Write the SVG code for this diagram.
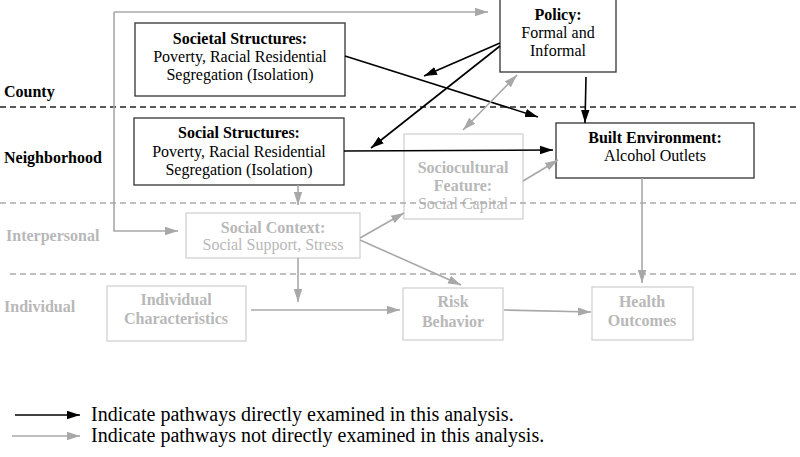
<svg xmlns="http://www.w3.org/2000/svg" width="800" height="457" viewBox="0 0 800 457">
<style>
text{font-family:"Liberation Serif","Times New Roman",serif;font-size:16px;text-anchor:middle}
.b{font-weight:bold}
.lab{text-anchor:start;font-weight:bold}
.g{fill:#b8b8b8}
.k{fill:#000}
.bk{fill:#fff;stroke:#333;stroke-width:1.3}
.bg{fill:#fff;stroke:#d2d2d2;stroke-width:1.3}
.ak{stroke:#000;stroke-width:1.6;fill:none}
.ag{stroke:#a8a8a8;stroke-width:1.6;fill:none}
.dk{stroke:#222;stroke-width:1.3;stroke-dasharray:6 4}
.dg{stroke:#aaa;stroke-width:1.3;stroke-dasharray:6 4}
.leg{text-anchor:start;font-size:20px}
</style>
<defs>
<marker id="mk" markerUnits="userSpaceOnUse" markerWidth="14" markerHeight="10" refX="13" refY="5" orient="auto-start-reverse"><path d="M0,0.8 L13,5 L0,9.2 z" fill="#000"/></marker>
<marker id="mg" markerUnits="userSpaceOnUse" markerWidth="14" markerHeight="10" refX="13" refY="5" orient="auto-start-reverse"><path d="M0,0.8 L13,5 L0,9.2 z" fill="#a8a8a8"/></marker>
</defs>
<rect width="800" height="457" fill="#fff"/>

<g id="levels">
<line class="dk" x1="0" y1="107" x2="800" y2="107"/>
<text class="lab k" x="4" y="97">County</text>
<text class="lab k" x="4" y="163">Neighborhood</text>
<text class="lab g" x="6" y="241">Interpersonal</text>
<text class="lab g" x="4" y="312">Individual</text>
<line class="dg" x1="10" y1="274" x2="800" y2="274"/>
</g>

<g id="societal">
<rect class="bk" x="135" y="23" width="210" height="73"/>
<text class="b k" x="240" y="44">Societal Structures:</text>
<text class="k" x="240" y="62">Poverty, Racial Residential</text>
<text class="k" x="240" y="80">Segregation (Isolation)</text>
</g>
<g id="policy">
<rect class="bk" x="500" y="-1" width="116" height="73"/>
<text class="b k" x="558" y="20">Policy:</text>
<text class="k" x="558" y="38">Formal and</text>
<text class="k" x="558" y="56">Informal</text>
</g>
<g id="social">
<rect class="bk" x="134" y="118" width="210" height="67"/>
<text class="b k" x="239" y="138">Social Structures:</text>
<text class="k" x="239" y="157">Poverty, Racial Residential</text>
<text class="k" x="239" y="175">Segregation (Isolation)</text>
</g>
<g id="built">
<rect class="bk" x="556" y="123" width="198" height="55"/>
<text class="b k" x="655" y="143">Built Environment:</text>
<text class="k" x="655" y="161">Alcohol Outlets</text>
</g>
<g id="sociocultural">
<rect class="bg" x="404" y="134" width="119" height="85"/>
<text class="b g" x="463" y="173">Sociocultural</text>
<text class="b g" x="463" y="191">Feature:</text>
<text class="g" x="463" y="209">Social Capital</text>
</g>
<line class="dg" x1="0" y1="203" x2="800" y2="203"/>
<g id="context">
<rect class="bg" x="186" y="213" width="174" height="45"/>
<text class="b g" x="273" y="233">Social Context:</text>
<text class="g" x="273" y="250">Social Support, Stress</text>
</g>
<g id="individual">
<rect class="bg" x="107" y="286" width="139" height="55"/>
<text class="b g" x="176" y="305">Individual</text>
<text class="b g" x="176" y="324">Characteristics</text>
</g>
<g id="risk">
<rect class="bg" x="403" y="288" width="100" height="52"/>
<text class="b g" x="453" y="307">Risk</text>
<text class="b g" x="453" y="327">Behavior</text>
</g>
<g id="health">
<rect class="bg" x="592" y="287" width="101" height="53"/>
<text class="b g" x="642" y="307">Health</text>
<text class="b g" x="642" y="326">Outcomes</text>
</g>

<g id="connectors">
<path class="ag" d="M114,12 V231 H178" marker-end="url(#mg)"/>
<line class="ag" x1="114" y1="12" x2="488" y2="12" marker-end="url(#mg)"/>
<line class="ak" x1="345" y1="56" x2="538" y2="117" marker-end="url(#mk)"/>
<line class="ak" x1="500" y1="43" x2="424" y2="76" marker-end="url(#mk)"/>
<line class="ak" x1="500" y1="46" x2="371" y2="148" marker-end="url(#mk)"/>
<line class="ak" x1="586" y1="77" x2="585" y2="123" marker-end="url(#mk)"/>
<line class="ak" x1="344" y1="151" x2="553" y2="150" marker-end="url(#mk)"/>
<line class="ag" x1="517" y1="75" x2="463" y2="130" marker-start="url(#mg)" marker-end="url(#mg)"/>
<line class="ag" x1="523" y1="181" x2="558" y2="160" marker-end="url(#mg)"/>
<line class="ag" x1="360" y1="238" x2="404" y2="213" marker-end="url(#mg)"/>
<line class="ag" x1="298" y1="185" x2="298" y2="205" marker-end="url(#mg)"/>
<line class="ag" x1="360" y1="240" x2="461" y2="285" marker-end="url(#mg)"/>
<line class="ag" x1="298" y1="258" x2="298" y2="302" marker-end="url(#mg)"/>
<line class="ag" x1="251" y1="310" x2="400" y2="310" marker-end="url(#mg)"/>
<line class="ag" x1="504" y1="310" x2="591" y2="312" marker-end="url(#mg)"/>
<line class="ag" x1="642" y1="178" x2="642" y2="283" marker-end="url(#mg)"/>
</g>

<g id="legend">
<line class="ak" x1="15" y1="415" x2="80" y2="415" marker-end="url(#mk)"/>
<text class="leg k" x="91" y="421">Indicate pathways directly examined in this analysis.</text>
<line class="ag" x1="12" y1="436" x2="80" y2="436" marker-end="url(#mg)"/>
<text class="leg k" x="91" y="442">Indicate pathways not directly examined in this analysis.</text>
</g>
</svg>
